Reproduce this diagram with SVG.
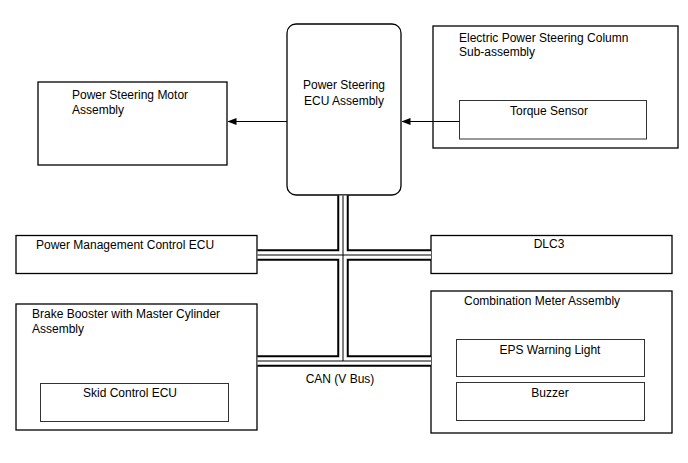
<svg xmlns="http://www.w3.org/2000/svg" width="688" height="463" viewBox="0 0 688 463">
<defs>
<style>
text{font-family:"Liberation Sans",Arial,sans-serif;font-size:12px;fill:#000}
.box{fill:#fff;stroke:#000;stroke-width:1.3}
.inner{fill:#fff;stroke:#333;stroke-width:1}
.c{text-anchor:middle}
.busO{fill:none;stroke:#000;stroke-width:11.5}
.busW{fill:none;stroke:#fff;stroke-width:7.5}
.busC{fill:none;stroke:#000;stroke-width:1}
.arr{fill:none;stroke:#000;stroke-width:1.2;marker-end:url(#ah)}
</style>
<marker id="ah" markerWidth="9" markerHeight="7" refX="8.5" refY="3.5" orient="auto" markerUnits="userSpaceOnUse">
<path d="M0,0 L9,3.5 L0,7 Z" fill="#000"/>
</marker>
</defs>
<rect width="688" height="463" fill="#fff"/>

<g id="motor">
<rect class="box" x="38" y="82" width="189" height="83"/>
<text x="72" y="99">Power Steering Motor</text>
<text x="72" y="114">Assembly</text>
</g>

<g id="ecu">
<rect class="box" x="287" y="24" width="114" height="171" rx="9"/>
<text class="c" x="344" y="89">Power Steering</text>
<text class="c" x="344" y="105">ECU Assembly</text>
</g>

<g id="column">
<rect class="box" x="433" y="26" width="245" height="122"/>
<text x="459" y="42">Electric Power Steering Column</text>
<text x="459" y="56">Sub-assembly</text>
<g id="torque">
<rect class="inner" x="459.5" y="100.5" width="187" height="38.5"/>
<text class="c" x="549" y="115">Torque Sensor</text>
</g>
</g>

<g id="pmc">
<rect class="box" x="16" y="235.5" width="241" height="38"/>
<text x="36" y="249">Power Management Control ECU</text>
</g>

<g id="dlc3">
<rect class="box" x="431" y="235.5" width="241" height="38"/>
<text class="c" x="549" y="248">DLC3</text>
</g>

<g id="brake">
<rect class="box" x="16" y="304" width="241" height="126"/>
<text x="32" y="318">Brake Booster with Master Cylinder</text>
<text x="32" y="333">Assembly</text>
<g id="skid">
<rect class="inner" x="40.5" y="383.5" width="188" height="38"/>
<text class="c" x="130" y="397">Skid Control ECU</text>
</g>
</g>

<g id="meter">
<rect class="box" x="431" y="291" width="241" height="142"/>
<text x="464" y="305">Combination Meter Assembly</text>
<g id="eps">
<rect class="inner" x="456.5" y="339.5" width="188" height="37"/>
<text class="c" x="550" y="354">EPS Warning Light</text>
</g>
<g id="buzzer">
<rect class="inner" x="456.5" y="382.5" width="188" height="38"/>
<text class="c" x="550" y="397">Buzzer</text>
</g>
</g>

<g id="connectors">
<path class="arr" d="M459.5,121.5 H402"/>
<path class="arr" d="M287,121.5 H228"/>
<g id="can-bus">
<path class="busO" d="M343,195.5 V361 M257.5,255 H431 M257.5,361 H431"/>
<path class="busW" d="M343,195.5 V361 M257.5,255 H431 M257.5,361 H431"/>
<path class="busC" d="M343,195.5 V361 M257.5,255 H431 M257.5,361 H431"/>
</g>
<text class="c" x="340" y="383">CAN (V Bus)</text>
</g>
</svg>
